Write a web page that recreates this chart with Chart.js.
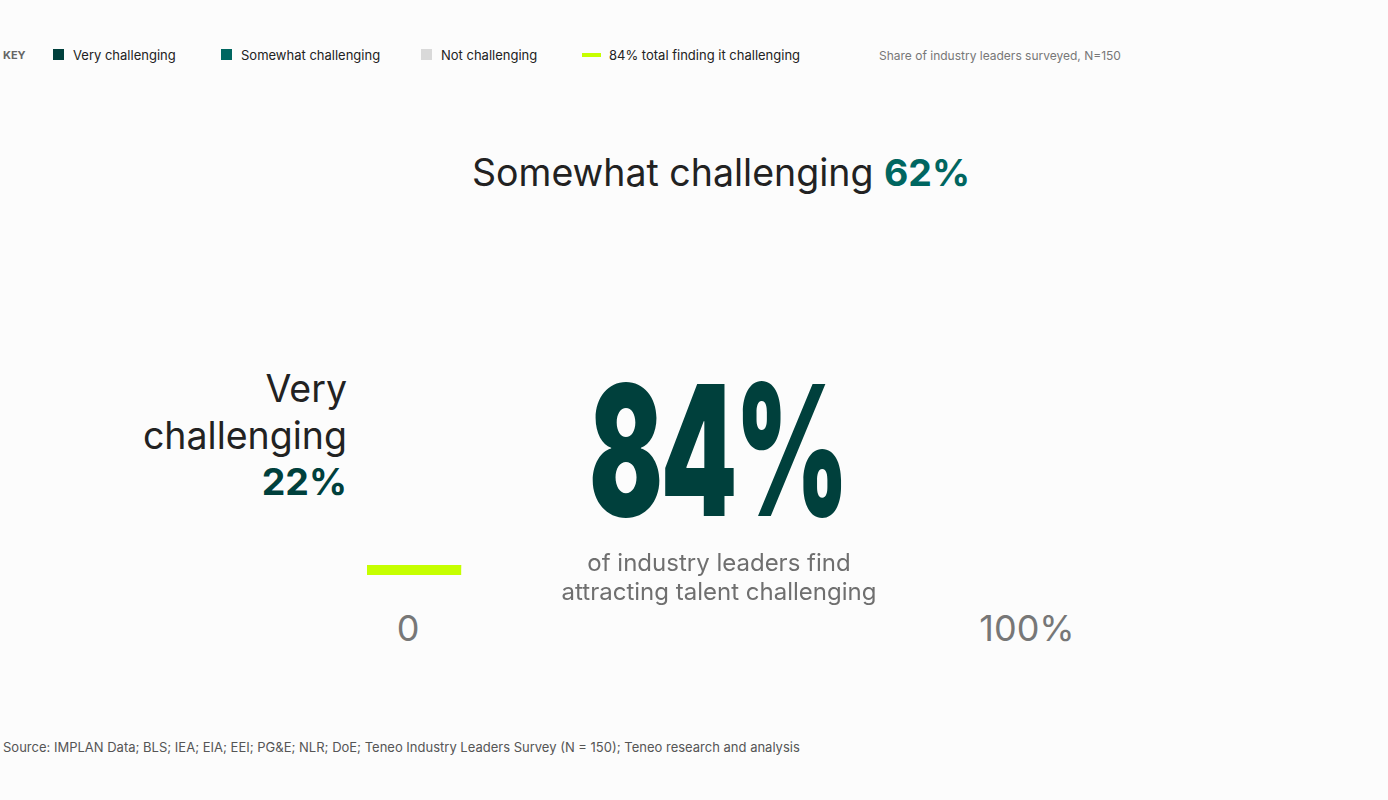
<!DOCTYPE html>
<html>
<head>
<meta charset="utf-8">
<script src="https://cdn.jsdelivr.net/npm/chart.js@4"></script>
<style>
  html, body { margin: 0; padding: 0; }
  body {
    width: 1388px;
    height: 800px;
    position: relative;
    overflow: hidden;
    background: #fcfcfc;
    font-family: Inter, "Noto Sans", sans-serif;
    color: #222;
  }
  .abs { position: absolute; white-space: nowrap; }
  .key { left: 3px; top: 48px; font-size: 11px; line-height: 14px; font-weight: 700; color: #666; }
  .item { top: 47px; font-size: 13px; line-height: 16px; color: #222; }
  .swatch { position: absolute; left: 0; top: 2px; width: 11px; height: 11px; }
  .lineSwatch { position: absolute; left: 0; top: 6px; width: 19px; height: 4px; }
  .note { left: 879px; top: 48px; font-size: 12px; line-height: 15px; color: #777; }
  .label { font-size: 37.5px; line-height: 46px; color: #222; }
  .label b { font-weight: 700; }
  #top { left: 0; width: 1442px; text-align: center; top: 150px; }
  #left { right: 1041px; text-align: right; top: 366px; white-space: normal; width: 260px; line-height: 46.5px; }
  #big {
    left: 589px; top: 359px;
    font-size: 182px; line-height: 182px; font-weight: 900;
    color: #00403c;
    letter-spacing: -4px;
    transform: scaleX(0.6);
    transform-origin: 0 0;
  }
  #sub { left: 0; width: 1438px; text-align: center; top: 548px; font-size: 24px; line-height: 29px; color: #6f6f6f; }
  .tick { top: 606px; font-size: 36px; line-height: 44px; color: #777; transform: translateX(-50%); }
  .source { left: 3px; top: 739px; font-size: 13px; line-height: 16px; color: #555; }
  #gauge { position: absolute; left: 367px; top: 197px; }
</style>
</head>
<body>

<div class="abs key">KEY</div>
<div id="legend"></div>
<div class="abs note">Share of industry leaders surveyed, N=150</div>

<div class="abs label" id="top"></div>
<div class="abs label" id="left"></div>

<canvas id="gauge" width="700" height="401"></canvas>

<div class="abs" id="big"></div>
<div class="abs" id="sub">of industry leaders find<br>attracting talent challenging</div>
<div id="ticks"></div>

<div class="abs source">Source: IMPLAN Data; BLS; IEA; EIA; EEI; PG&amp;E; NLR; DoE; Teneo Industry Leaders Survey (N = 150); Teneo research and analysis</div>

<script>
// survey shares, % of respondents
const categories = ["Very challenging", "Somewhat challenging", "Not challenging"];
const shares = [22, 62, 16];
const totalLabel = "84% total finding it challenging";
const totalChallenging = 84;
const tickLabels = ["0", "100%"];

const colors = ["#00403c", "#006660", "#d9d9d9"];
const lime = "#c6ff00";

// legend
let legendHtml = "";
const legendX = [53, 221, 421];
categories.forEach((c, i) => {
    legendHtml += `<div class="abs item" style="left:${legendX[i]}px;padding-left:20px">` +
        `<span class="swatch" style="background:${colors[i]}"></span>${c}</div>`;
});
legendHtml += `<div class="abs item" style="left:582px;padding-left:27px">` +
    `<span class="lineSwatch" style="background:${lime}"></span>${totalLabel}</div>`;
document.getElementById("legend").innerHTML = legendHtml;

// labels
document.getElementById("top").innerHTML =
    `${categories[1]} <b style="color:${colors[1]}">${shares[1]}%</b>`;
document.getElementById("left").innerHTML =
    `Very<br>challenging<br><b style="color:${colors[0]}">${shares[0]}%</b>`;
document.getElementById("big").innerText = totalChallenging + "%";

// gauge ends
const tickX = [408, 1027];
let ticksHtml = "";
tickLabels.forEach((t, i) => {
    ticksHtml += `<div class="abs tick" style="left:${tickX[i]}px">${t}</div>`;
});
document.getElementById("ticks").innerHTML = ticksHtml;

// =========================
// GAUGE
// =========================

const gauge = new Chart(
    document.getElementById("gauge"),
    {
        type: "doughnut",
        data: {
            labels: categories,
            datasets: [{
                data: shares,
                backgroundColor: colors,
                borderColor: [lime, "rgba(0,0,0,0)", "rgba(0,0,0,0)"],
                borderWidth: [10, 0, 0],
                hoverBorderWidth: [10, 0, 0],
                borderJoinStyle: "miter",
                hoverOffset: 0
            }]
        },
        options: {
            responsive: false,
            devicePixelRatio: 1,
            rotation: -90,
            circumference: 180,
            cutout: "75.6%",
            events: [],
            // the arcs are still sweeping in from the left
            animation: {
                duration: 1e9,
                easing: "linear",
                animateRotate: true,
                animateScale: false
            },
            layout: { padding: 0 },
            plugins: {
                legend: { display: false },
                tooltip: { enabled: false }
            }
        }
    }
);
</script>
</body>
</html>
